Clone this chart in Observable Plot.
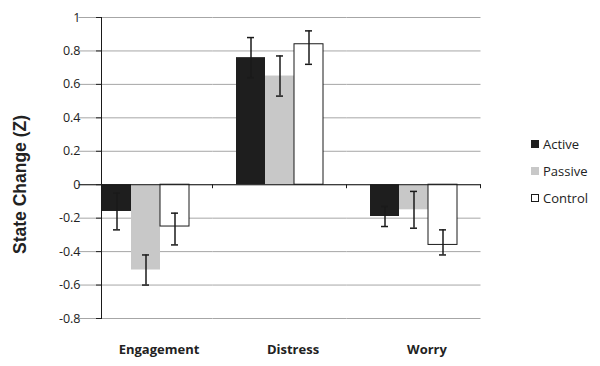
<!DOCTYPE html>
<html>
<head>
<meta charset="utf-8">
<script src="https://cdn.jsdelivr.net/npm/d3@7"></script>
<script src="https://cdn.jsdelivr.net/npm/@observablehq/plot@0.6"></script>
<style>
  html, body { margin: 0; padding: 0; background: #fff; }
  #wrap { position: relative; width: 600px; height: 366px; font-family: "Open Sans", sans-serif; color: #222; }
  #legend { position: absolute; left: 531px; top: 130px; font-size: 13px; }
  #legend .item { height: 27px; line-height: 20px; display: flex; align-items: center; }
  #legend .sw { width: 8px; height: 8px; box-sizing: border-box; margin-right: 4px; }
</style>
</head>
<body>
<div id="wrap"><div id="legend"></div></div>
<script>
const categories = ["Engagement", "Distress", "Worry"];
const series = ["Active", "Passive", "Control"];
const seriesColors = ["#1e1e1e", "#c8c8c8", "#ffffff"];

const activeValues  = [-0.16, 0.76, -0.19];
const passiveValues = [-0.51, 0.65, -0.15];
const controlValues = [-0.25, 0.84, -0.36];

const activeErrLow   = [-0.27, 0.64, -0.25];
const activeErrHigh  = [-0.05, 0.88, -0.13];
const passiveErrLow  = [-0.60, 0.53, -0.26];
const passiveErrHigh = [-0.42, 0.77, -0.04];
const controlErrLow  = [-0.36, 0.72, -0.42];
const controlErrHigh = [-0.17, 0.92, -0.27];

const yTicks = [-0.8, -0.6, -0.4, -0.2, 0, 0.2, 0.4, 0.6, 0.8, 1];
const yTitle = "State Change (Z)";

const valuesBySeries = [activeValues, passiveValues, controlValues];
const lowBySeries = [activeErrLow, passiveErrLow, controlErrLow];
const highBySeries = [activeErrHigh, passiveErrHigh, controlErrHigh];

const rows = [];
categories.forEach((c, ci) => {
  series.forEach((s, si) => {
    rows.push({category: c, series: s, value: valuesBySeries[si][ci], lo: lowBySeries[si][ci], hi: highBySeries[si][ci]});
  });
});
const boundaryRows = categories.map(c => ({category: c, series: "Control"}));

const chart = Plot.plot({
  width: 600,
  height: 366,
  marginLeft: 78,
  marginRight: 118,
  marginTop: 17,
  marginBottom: 48,
  style: {fontFamily: "'Open Sans', sans-serif", background: "white", color: "#222"},
  fx: {domain: categories, paddingInner: 1/3, paddingOuter: 1/6, label: null},
  x: {domain: series, padding: 0, axis: null},
  y: {domain: [-0.8, 1]},
  color: {domain: series, range: seriesColors},
  marks: [
    Plot.ruleY(yTicks, {stroke: "#a6a6a6", strokeWidth: 1, insetLeft: -22.5, insetRight: -22.5}),
    Plot.barY(rows, {fx: "category", x: "series", y: "value", fill: "series"}),
    Plot.barY(rows.filter(d => d.series === "Control"), {fx: "category", x: "series", y: "value", fill: "none", stroke: "#1a1a1a", strokeWidth: 1}),
    Plot.ruleY([0], {stroke: "#1a1a1a", strokeWidth: 1, insetLeft: -22.5, insetRight: -22.5}),
    Plot.ruleX(boundaryRows, {fx: "category", x: "series", y1: 0, y2: 0, insetBottom: -4, dx: 37.5, stroke: "#1a1a1a"}),
    Plot.ruleX(rows, {fx: "category", x: "series", y1: "lo", y2: "hi", stroke: "#1a1a1a", strokeWidth: 1.5}),
    Plot.tickY(rows, {fx: "category", x: "series", y: "lo", insetLeft: 11, insetRight: 11, stroke: "#1a1a1a", strokeWidth: 1.5}),
    Plot.tickY(rows, {fx: "category", x: "series", y: "hi", insetLeft: 11, insetRight: 11, stroke: "#1a1a1a", strokeWidth: 1.5}),
    Plot.frame({anchor: "left", facet: "super", stroke: "#1a1a1a"}),
    Plot.axisY({ticks: yTicks, tickSize: 5, tickPadding: 16, fontSize: 12.5, label: null,
      tickFormat: d => String(Math.round(d * 10) / 10)}),
    Plot.text([yTitle], {facet: "super", frameAnchor: "left", textAnchor: "middle", lineAnchor: "middle", rotate: -90, dx: -81, dy: 16.5,
      fontFamily: "'Liberation Sans', Arial, sans-serif", fontWeight: "bold", fontSize: 17.5, fill: "#222"}),
    Plot.axisFx({anchor: "bottom", tickSize: 0, tickPadding: 26, fontSize: 13, fontWeight: "bold", label: null, dx: 13})
  ]
});
document.getElementById("wrap").prepend(chart);

const legend = document.getElementById("legend");
series.forEach((s, i) => {
  const item = document.createElement("div");
  item.className = "item";
  const sw = document.createElement("div");
  sw.className = "sw";
  sw.style.background = seriesColors[i];
  if (s === "Control") sw.style.border = "1px solid #1a1a1a";
  const label = document.createElement("span");
  label.textContent = s;
  item.appendChild(sw);
  item.appendChild(label);
  legend.appendChild(item);
});
</script>
</body>
</html>
